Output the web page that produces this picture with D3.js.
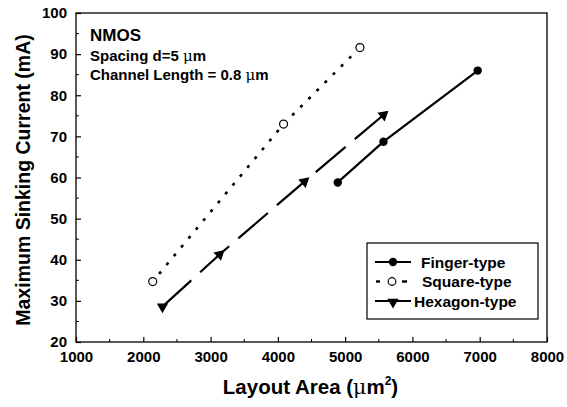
<!DOCTYPE html>
<html>
<head>
<meta charset="utf-8">
<script src="https://cdn.jsdelivr.net/npm/d3@7"></script>
<style>
    body { margin: 0; background: #fff; }
    text { font-family: "Liberation Sans", Arial, sans-serif; font-weight: bold; fill: #000; }
</style>
</head>
<body>
<script>
// layout area (um^2) vs max sinking current (mA)
var fingerX = [4890, 5570, 6970];
var fingerY = [58.8, 68.7, 86.0];
var squareX = [2140, 4085, 5220];
var squareY = [34.7, 73.0, 91.6];
var hexX = [2285, 3135, 4395, 5570];
var hexY = [28.6, 41.3, 59.0, 75.2];
var xTicks = [1000, 2000, 3000, 4000, 5000, 6000, 7000, 8000];
var yTicks = [20, 30, 40, 50, 60, 70, 80, 90, 100];
var legendNames = ["Finger-type", "Square-type", "Hexagon-type"];

window.onload = function () {
    var width = 567, height = 407;
    var left = 76, right = 547, top = 13, bottom = 342;

    var svg = d3.select("body").append("svg")
        .attr("width", width)
        .attr("height", height);

    var x = d3.scaleLinear().domain([1000, 8000]).range([left, right]);
    var y = d3.scaleLinear().domain([20, 100]).range([bottom, top]);

    // frame
    svg.append("rect")
        .attr("x", left).attr("y", top)
        .attr("width", right - left).attr("height", bottom - top)
        .attr("fill", "none").attr("stroke", "#000").attr("stroke-width", 1.3);

    // ticks, inward
    var xMinor = d3.range(1500, 8000, 1000);
    var yMinor = d3.range(25, 100, 10);
    var xAxis = d3.axisBottom(x).tickValues(xTicks).tickSizeInner(-5).tickSizeOuter(0).tickFormat(d3.format("d"));
    var yAxis = d3.axisLeft(y).tickValues(yTicks).tickSizeInner(-5).tickSizeOuter(0);

    var gx = svg.append("g").attr("transform", "translate(0," + bottom + ")").call(xAxis);
    var gy = svg.append("g").attr("transform", "translate(" + left + ",0)").call(yAxis);
    [gx, gy].forEach(function (g) {
        g.select(".domain").remove();
        g.selectAll("line").attr("stroke", "#000").attr("stroke-width", 1.2);
        g.selectAll("text").attr("font-size", 15).attr("font-family", "Liberation Sans, Arial, sans-serif")
            .attr("font-weight", "bold");
    });
    gx.selectAll("text").attr("y", 9);
    gy.selectAll("text").attr("x", -9);

    svg.append("g").selectAll("line").data(xMinor).enter().append("line")
        .attr("x1", function (d) { return x(d); }).attr("x2", function (d) { return x(d); })
        .attr("y1", bottom).attr("y2", bottom - 3)
        .attr("stroke", "#000").attr("stroke-width", 1);
    svg.append("g").selectAll("line").data(yMinor).enter().append("line")
        .attr("y1", function (d) { return y(d); }).attr("y2", function (d) { return y(d); })
        .attr("x1", left).attr("x2", left + 3)
        .attr("stroke", "#000").attr("stroke-width", 1);

    // axis titles
    var xt = svg.append("text")
        .attr("x", (left + right) / 2 - 1).attr("y", 394)
        .attr("text-anchor", "middle").attr("font-size", 20.5);
    xt.append("tspan").text("Layout Area (");
    xt.append("tspan").attr("font-weight", "normal").attr("font-family", "DejaVu Serif, serif").text("\u03bc");
    xt.append("tspan").text("m");
    xt.append("tspan").attr("font-size", 12).attr("dy", -9).text("2");
    xt.append("tspan").attr("dy", 9).text(")");

    svg.append("text")
        .attr("transform", "translate(30," + 180 + ") rotate(-90)")
        .attr("text-anchor", "middle").attr("font-size", 19.5)
        .text("Maximum Sinking Current (mA)");

    // annotation
    svg.append("text").attr("x", 90).attr("y", 41).attr("font-size", 17).text("NMOS");
    var a1 = svg.append("text").attr("x", 90).attr("y", 61).attr("font-size", 15);
    a1.append("tspan").text("Spacing d=5 ");
    a1.append("tspan").attr("font-weight", "normal").attr("font-family", "DejaVu Serif, serif").text("\u03bc");
    a1.append("tspan").text("m");
    var a2 = svg.append("text").attr("x", 90).attr("y", 80).attr("font-size", 15);
    a2.append("tspan").text("Channel Length = 0.8 ");
    a2.append("tspan").attr("font-weight", "normal").attr("font-family", "DejaVu Serif, serif").text("\u03bc");
    a2.append("tspan").text("m");

    var line = d3.line()
        .x(function (d) { return x(d[0]); })
        .y(function (d) { return y(d[1]); });

    var finger = d3.zip(fingerX, fingerY);
    var square = d3.zip(squareX, squareY);
    var hex = d3.zip(hexX, hexY);

    // square-type: dotted
    svg.append("path").datum(square).attr("d", line)
        .attr("fill", "none").attr("stroke", "#000").attr("stroke-width", 2.6)
        .attr("stroke-dasharray", "3,8.5").attr("stroke-dashoffset", -10);
    svg.append("g").selectAll("circle").data(square).enter().append("circle")
        .attr("cx", function (d) { return x(d[0]); }).attr("cy", function (d) { return y(d[1]); })
        .attr("r", 4).attr("fill", "#fff").attr("stroke", "#000").attr("stroke-width", 1.2);

    // hexagon-type: long dash
    svg.append("path").datum(hex).attr("d", line)
        .attr("fill", "none").attr("stroke", "#000").attr("stroke-width", 2.2)
        .attr("stroke-dasharray", "39,12");
    var tri = d3.symbol().type(d3.symbolTriangle).size(55);
    svg.append("g").selectAll("path").data(hex).enter().append("path")
        .attr("d", tri)
        .attr("transform", function (d, i) {
            var ang = 180;
            if (i > 0) {
                var p = hex[i - 1];
                ang = Math.atan2(y(d[1]) - y(p[1]), x(d[0]) - x(p[0])) * 180 / Math.PI + 90;
            }
            return "translate(" + x(d[0]) + "," + y(d[1]) + ") rotate(" + ang + ")";
        })
        .attr("fill", "#000");

    // finger-type: solid
    svg.append("path").datum(finger).attr("d", line)
        .attr("fill", "none").attr("stroke", "#000").attr("stroke-width", 2.2);
    svg.append("g").selectAll("circle").data(finger).enter().append("circle")
        .attr("cx", function (d) { return x(d[0]); }).attr("cy", function (d) { return y(d[1]); })
        .attr("r", 4.2).attr("fill", "#000");

    // legend
    var lg = svg.append("g");
    lg.append("rect").attr("x", 367).attr("y", 243).attr("width", 171).attr("height", 76)
        .attr("fill", "#fff").attr("stroke", "#000").attr("stroke-width", 1.2);
    var rows = [262, 281.5, 301];
    var textX = [421, 422, 414];
    legendNames.forEach(function (name, i) {
        var cy = rows[i];
        if (i === 1) {
            lg.append("line").attr("x1", 376).attr("x2", 380).attr("y1", cy).attr("y2", cy)
                .attr("stroke", "#000").attr("stroke-width", 2.4);
            lg.append("line").attr("x1", 402).attr("x2", 407).attr("y1", cy).attr("y2", cy)
                .attr("stroke", "#000").attr("stroke-width", 2.4);
            lg.append("circle").attr("cx", 392).attr("cy", cy).attr("r", 3.8)
                .attr("fill", "#fff").attr("stroke", "#000").attr("stroke-width", 1.2);
        } else {
            lg.append("line").attr("x1", 375).attr("x2", 411).attr("y1", cy).attr("y2", cy)
                .attr("stroke", "#000").attr("stroke-width", 2.2);
            if (i === 0) {
                lg.append("circle").attr("cx", 393).attr("cy", cy).attr("r", 4.2).attr("fill", "#000");
            } else {
                lg.append("path").attr("d", tri)
                    .attr("transform", "translate(393," + (cy + 1) + ") rotate(180)").attr("fill", "#000");
            }
        }
        lg.append("text").attr("x", textX[i]).attr("y", cy + 5.5).attr("font-size", 15.5).text(name);
    });
};
</script>
</body>
</html>
